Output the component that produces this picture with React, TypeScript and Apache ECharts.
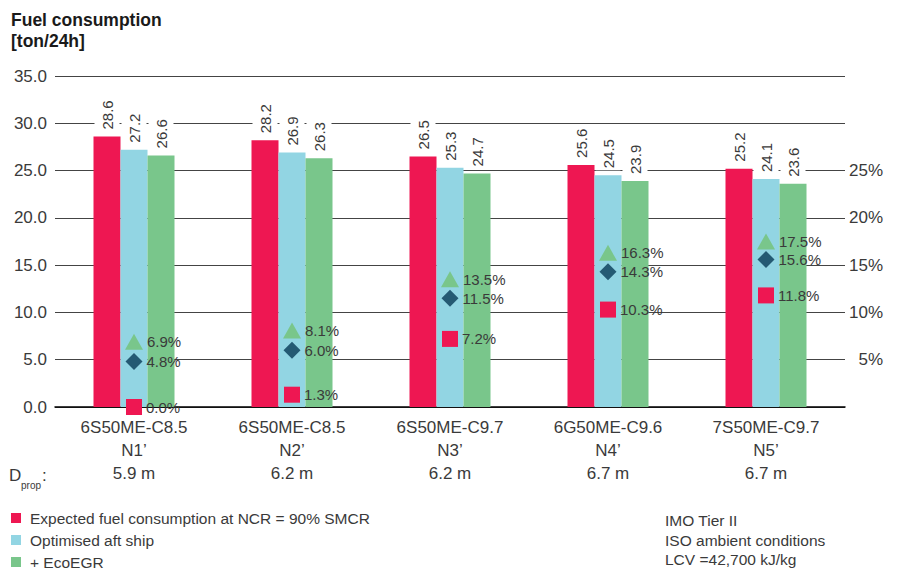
import React, { useEffect, useRef } from 'react';
import * as echarts from 'echarts';

const engines = ['6S50ME-C8.5', '6S50ME-C8.5', '6S50ME-C9.7', '6G50ME-C9.6', '7S50ME-C9.7'];
const caseLabels = ['N1’', 'N2’', 'N3’', 'N4’', 'N5’'];
const propDiameters = ['5.9 m', '6.2 m', '6.2 m', '6.7 m', '6.7 m'];

const expected = [28.6, 28.2, 26.5, 25.6, 25.2];
const optimised = [27.2, 26.9, 25.3, 24.5, 24.1];
const ecoEgr = [26.6, 26.3, 24.7, 23.9, 23.6];

const savingEcoEgr = [6.9, 8.1, 13.5, 16.3, 17.5];
const savingOptimised = [4.8, 6.0, 11.5, 14.3, 15.6];
const savingExpected = [0.0, 1.3, 7.2, 10.3, 11.8];

const rightTicks = [5, 10, 15, 20, 25];

const seriesNames = [
  'Expected fuel consumption at NCR = 90% SMCR',
  'Optimised aft ship',
  '+ EcoEGR',
];

const RED = '#EE1752';
const BLUE = '#92D5E3';
const GREEN = '#79C68B';
const NAVY = '#245A73';
const TEXT = '#3a3a3a';
const FONT = '"Liberation Sans", Arial, Helvetica, sans-serif';

export default function App() {
  const ref = useRef<HTMLDivElement>(null);

  useEffect(() => {
    if (!ref.current) return;
    const chart = echarts.init(ref.current, undefined, { renderer: 'svg' });

    const categories = engines.map((e, i) => `${e}\n${caseLabels[i]}\n${propDiameters[i]}`);

    const barLabel = {
      show: true,
      position: 'top',
      distance: 5,
      rotate: 90,
      align: 'left',
      verticalAlign: 'middle',
      fontSize: 15,
      color: TEXT,
      fontFamily: FONT,
      backgroundColor: '#fff',
      padding: [5, 2, 5, 2],
      formatter: (p: any) => Number(p.value).toFixed(1),
    };

    const markerLabel = {
      show: true,
      position: 'right',
      distance: 4,
      fontSize: 15,
      color: TEXT,
      fontFamily: FONT,
      formatter: (p: any) => Number(p.value).toFixed(1) + '%',
    };

    const legendRows = seriesNames.map((name, i) => ({
      orient: 'vertical',
      left: 11,
      top: 510 + i * 22,
      padding: 0,
      itemWidth: 10,
      itemHeight: 10,
      icon: 'rect',
      data: [name],
      textStyle: { fontSize: 15.5, lineHeight: 14, color: TEXT, fontFamily: FONT, padding: [0, 0, 0, 4] },
    }));

    const option: any = {
      animation: false,
      textStyle: { fontFamily: FONT },
      title: {
        text: 'Fuel consumption\n[ton/24h]',
        left: 6,
        top: 4,
        textStyle: {
          fontSize: 17.5,
          fontWeight: 'bold',
          color: '#1a1a1a',
          lineHeight: 21,
          fontFamily: FONT,
        },
      },
      legend: legendRows,
      grid: { left: 55, right: 53, top: 76, bottom: 162, containLabel: false },
      xAxis: {
        type: 'category',
        data: categories,
        axisLine: { show: true, lineStyle: { color: '#000', width: 1.5 } },
        axisTick: { show: false },
        axisLabel: {
          fontSize: 17,
          lineHeight: 23,
          color: TEXT,
          margin: 9,
          interval: 0,
          fontFamily: FONT,
        },
      },
      yAxis: [
        {
          type: 'value',
          min: 0,
          max: 35,
          interval: 5,
          axisLine: { show: false },
          axisTick: { show: false },
          axisLabel: {
            fontSize: 17,
            color: TEXT,
            margin: 8,
            fontFamily: FONT,
            formatter: (v: number) => v.toFixed(1),
          },
          splitLine: { show: true, lineStyle: { color: '#444', width: 1 } },
        },
        {
          type: 'value',
          position: 'right',
          min: 0,
          max: 35,
          interval: 5,
          axisLine: { show: false },
          axisTick: { show: false },
          splitLine: { show: false },
          axisLabel: {
            fontSize: 17,
            color: TEXT,
            margin: 38,
            align: 'right',
            fontFamily: FONT,
            formatter: (v: number) => (rightTicks.indexOf(v) >= 0 ? `${v}%` : ''),
          },
        },
      ],
      series: [
        {
          name: seriesNames[0],
          type: 'bar',
          data: expected,
          barWidth: 27,
          barGap: '0%',
          itemStyle: { color: RED },
          label: barLabel,
        },
        {
          name: seriesNames[1],
          type: 'bar',
          data: optimised,
          barWidth: 27,
          barGap: '0%',
          itemStyle: { color: BLUE },
          label: barLabel,
        },
        {
          name: seriesNames[2],
          type: 'bar',
          data: ecoEgr,
          barWidth: 27,
          barGap: '0%',
          itemStyle: { color: GREEN },
          label: barLabel,
        },
        {
          name: 'Saving EcoEGR',
          type: 'scatter',
          data: savingEcoEgr,
          symbol: 'triangle',
          symbolSize: [18, 16],
          itemStyle: { color: GREEN, opacity: 1 },
          label: markerLabel,
          z: 5,
        },
        {
          name: 'Saving optimised',
          type: 'scatter',
          data: savingOptimised,
          symbol: 'diamond',
          symbolSize: 17,
          itemStyle: { color: NAVY, opacity: 1 },
          label: markerLabel,
          z: 5,
        },
        {
          name: 'Saving expected',
          type: 'scatter',
          data: savingExpected,
          symbol: 'rect',
          symbolSize: 16,
          itemStyle: { color: RED, opacity: 1 },
          label: markerLabel,
          z: 5,
        },
      ],
      graphic: [
        { type: 'text', left: 9, top: 467, style: { text: 'D', fontSize: 17, fill: TEXT, fontFamily: FONT } },
        { type: 'text', left: 21, top: 480, style: { text: 'prop', fontSize: 10, fill: TEXT, fontFamily: FONT } },
        { type: 'text', left: 42, top: 467, style: { text: ':', fontSize: 17, fill: TEXT, fontFamily: FONT } },
        {
          type: 'text',
          left: 665,
          top: 511,
          style: {
            text: 'IMO Tier II\nISO ambient conditions\nLCV =42,700 kJ/kg',
            fontSize: 15.5,
            lineHeight: 19.5,
            fill: TEXT,
            fontFamily: FONT,
          },
        },
      ],
    };

    chart.setOption(option);
    return () => chart.dispose();
  }, []);

  return (
    <div
      ref={ref}
      style={{ position: 'fixed', left: 0, top: 0, width: 898, height: 569, background: '#fff' }}
    />
  );
}
